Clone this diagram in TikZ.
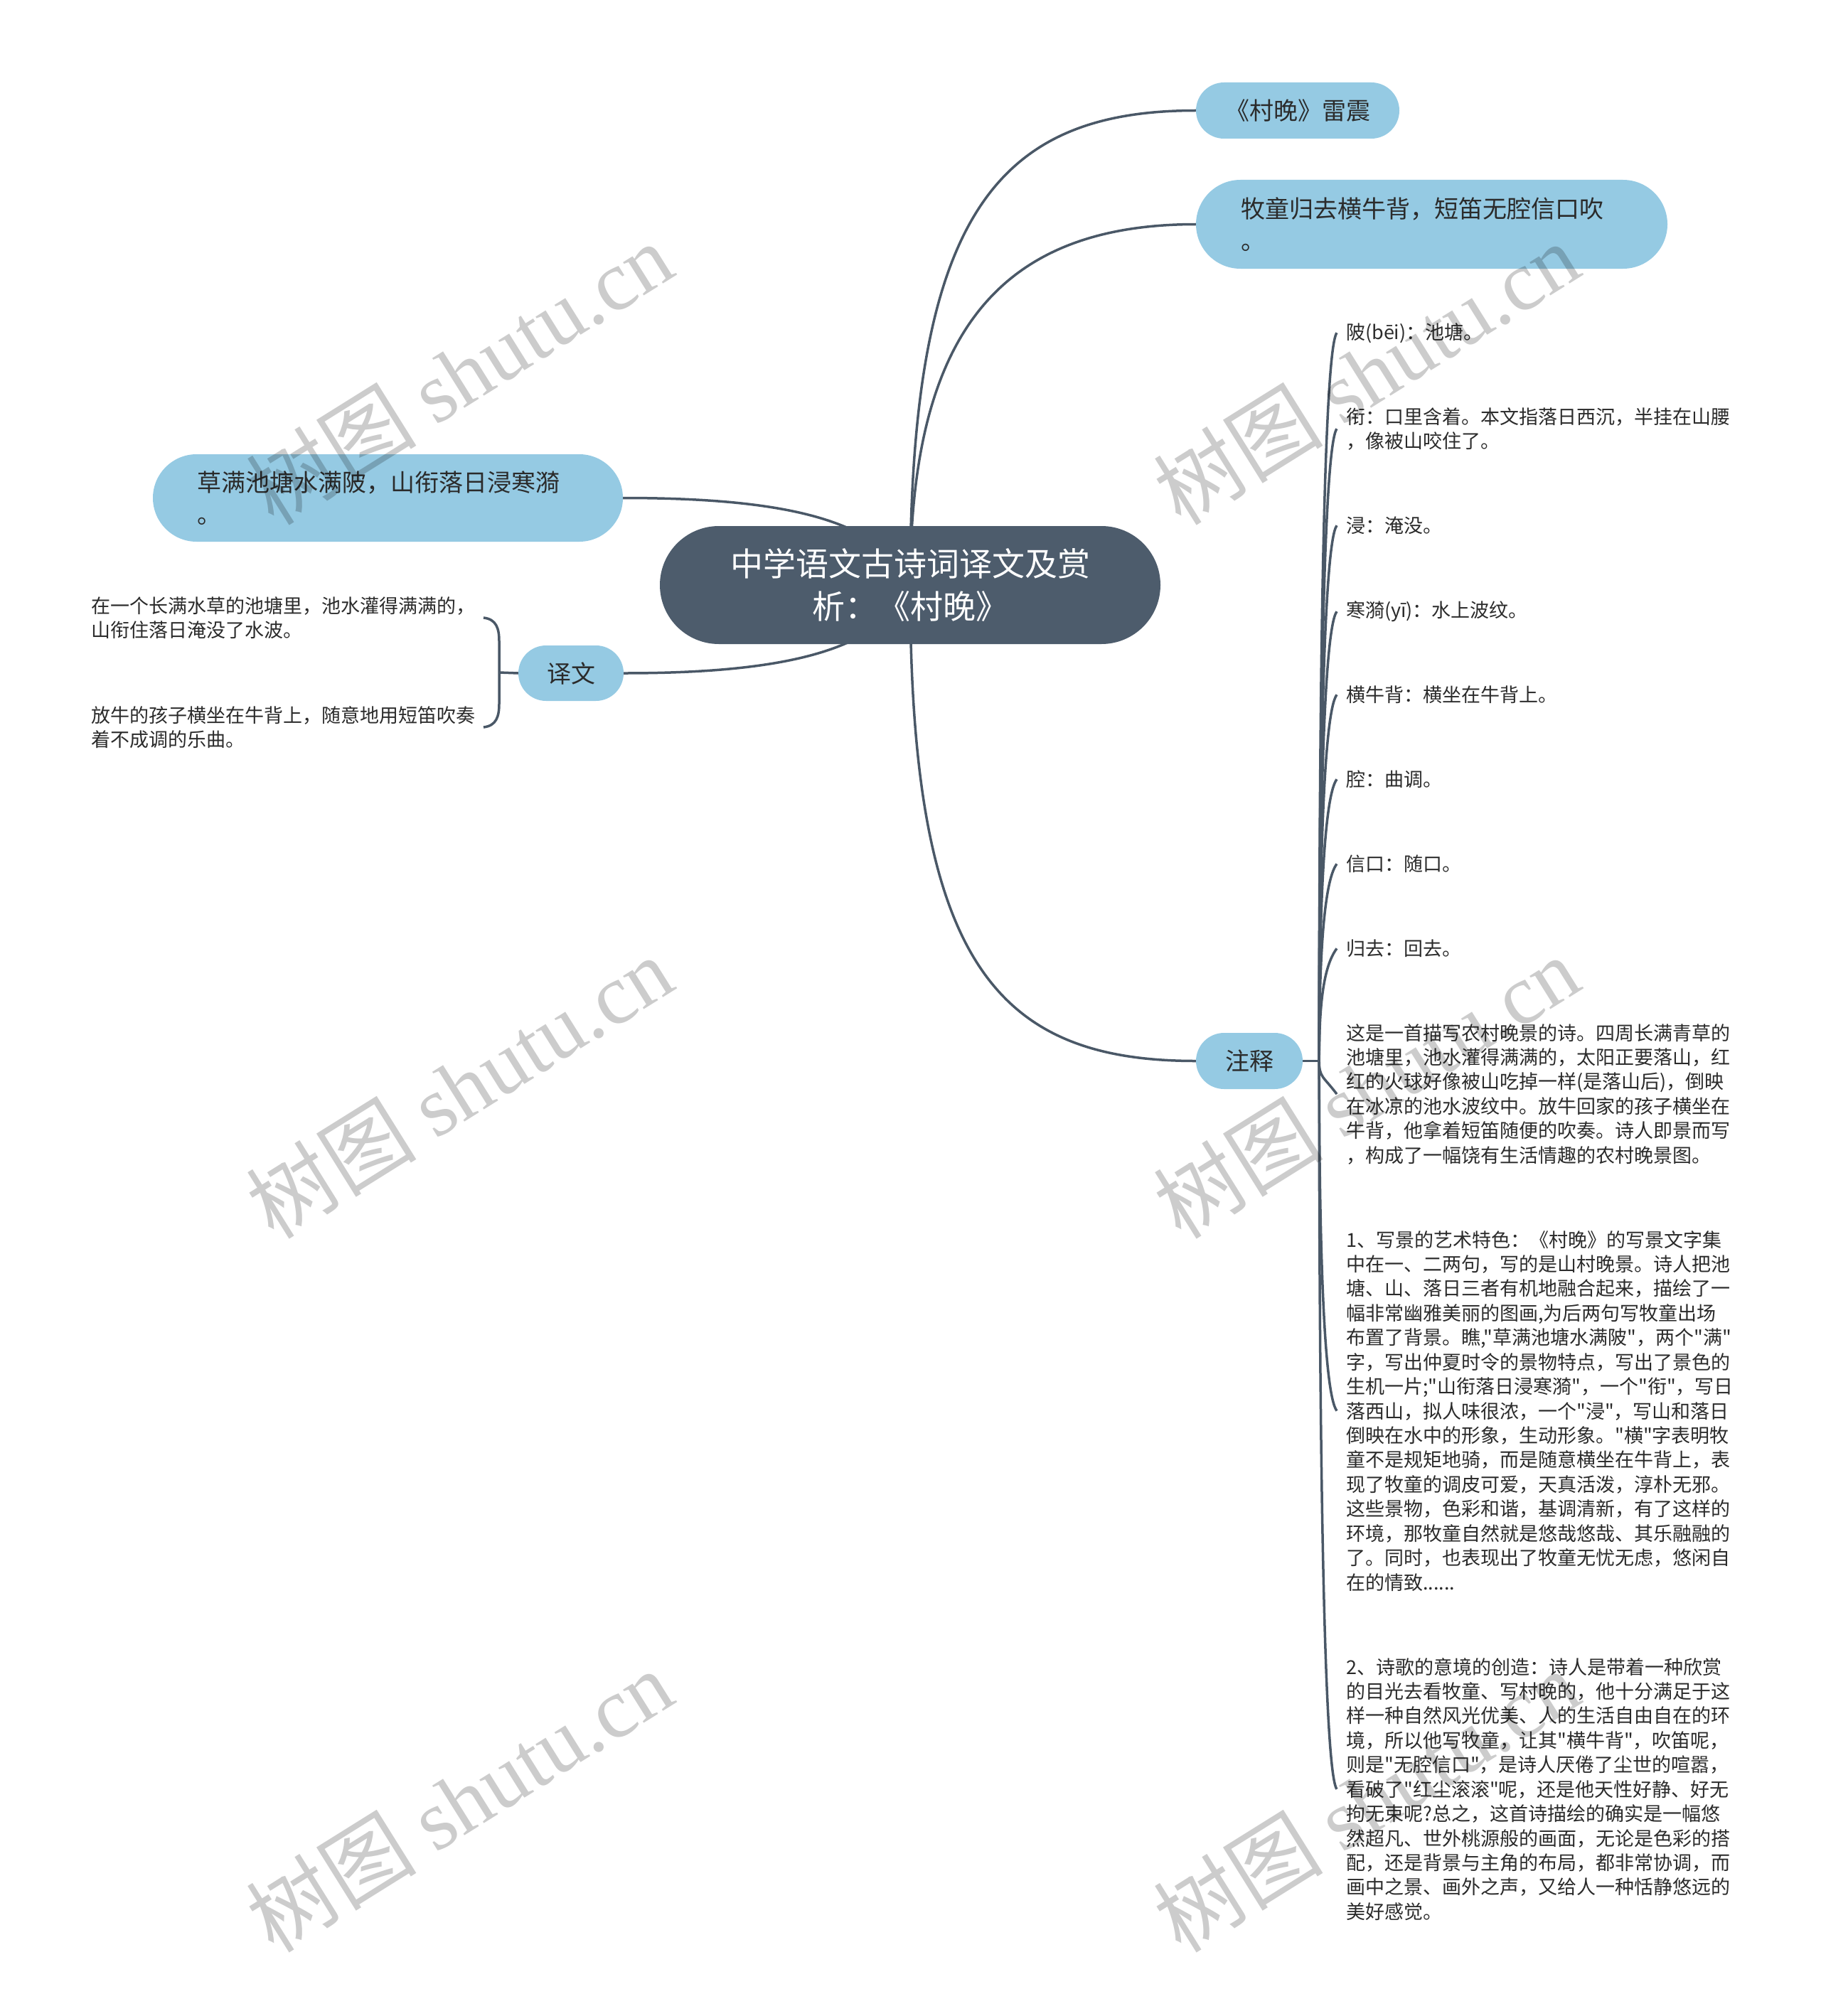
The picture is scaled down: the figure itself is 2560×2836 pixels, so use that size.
\documentclass[tikz,border=0pt]{standalone}
\usepackage{fontspec}
\setmainfont{Noto Sans CJK SC}[Ligatures=TeXOff]
\newfontfamily\wmlatin{Liberation Serif}
\newfontfamily\wmcjk{Noto Sans CJK SC}
\usetikzlibrary{calc}
\definecolor{rootfill}{HTML}{4D5C6C}
\definecolor{subfill}{HTML}{95CAE3}
\definecolor{linecol}{HTML}{4A5867}
\definecolor{txt}{HTML}{2B2B2B}
\pgfdeclarelayer{bg}
\pgfdeclarelayer{fg}
\pgfsetlayers{bg,main,fg}
\begin{document}
\begin{tikzpicture}[x=1pt,y=-1pt,
  rootnode/.style={fill=rootfill, text=white, rounded corners=83pt, minimum width=704pt, minimum height=166pt, inner sep=0pt, align=center, font=\fontsize{46}{60}\selectfont},
  topic/.style={fill=subfill, text=txt, inner sep=0pt, font=\fontsize{34}{45}\selectfont},
  note/.style={text=txt, inner sep=0pt, anchor=base west, text width=600pt, align=left, font=\fontsize{27}{34.43}\selectfont},
  conn/.style={draw=linecol, line width=3.5pt},
  wm/.style={text=black, text opacity=0.2, rotate=32, inner sep=0pt, font=\fontsize{120}{120}\selectfont}
]
\useasboundingbox (0,0) rectangle (2560,2836);

% main nodes
\node[rootnode] (root) at (1280,823) {中学语文古诗词译文及赏\\析：《村晚》};
\node[topic, rounded corners=39.5pt, minimum width=286pt, minimum height=79pt] (lz) at (1825,155.5) {《村晚》雷震};
\node[topic, rounded corners=62.5pt, minimum width=663pt, minimum height=125pt, text width=537pt, align=left] (mt) at (2013.5,315.5) {牧童归去横牛背，短笛无腔信口吹\\。};
\node[topic, rounded corners=61.5pt, minimum width=661pt, minimum height=123pt, text width=537pt, align=left] (cm) at (545.5,700.5) {草满池塘水满陂，山衔落日浸寒漪\\。};
\node[topic, rounded corners=39pt, minimum width=148pt, minimum height=78pt] (yw) at (803,947) {译文};
\node[topic, rounded corners=39.5pt, minimum width=150pt, minimum height=79pt] (zs) at (1757,1492.5) {注释};

% translation texts
\node[note] (t1) at (128,862) {在一个长满水草的池塘里，池水灌得满满的，\\山衔住落日淹没了水波。};
\node[note] (t2) at (128,1016) {放牛的孩子横坐在牛背上，随意地用短笛吹奏\\着不成调的乐曲。};

% notes
\node[note] (n1) at (1893,477) {陂(bēi)：池塘。};
\node[note] (n2) at (1893,596) {衔：口里含着。本文指落日西沉，半挂在山腰\\，像被山咬住了。};
\node[note] (n3) at (1893,749.5) {浸：淹没。};
\node[note] (n4) at (1893,868.5) {寒漪(yī)：水上波纹。};
\node[note] (n5) at (1893,987.5) {横牛背：横坐在牛背上。};
\node[note] (n6) at (1893,1106.5) {腔：曲调。};
\node[note] (n7) at (1893,1225.5) {信口：随口。};
\node[note] (n8) at (1893,1344.5) {归去：回去。};
\node[note] (n9) at (1893,1463) {这是一首描写农村晚景的诗。四周长满青草的\\池塘里，池水灌得满满的，太阳正要落山，红\\红的火球好像被山吃掉一样(是落山后)，倒映\\在冰凉的池水波纹中。放牛回家的孩子横坐在\\牛背，他拿着短笛随便的吹奏。诗人即景而写\\，构成了一幅饶有生活情趣的农村晚景图。};
\node[note] (n10) at (1893,1754) {1、写景的艺术特色：《村晚》的写景文字集\\中在一、二两句，写的是山村晚景。诗人把池\\塘、山、落日三者有机地融合起来，描绘了一\\幅非常幽雅美丽的图画,为后两句写牧童出场\\布置了背景。瞧,"草满池塘水满陂"，两个"满"\\字，写出仲夏时令的景物特点，写出了景色的\\生机一片;"山衔落日浸寒漪"，一个"衔"，写日\\落西山，拟人味很浓，一个"浸"，写山和落日\\倒映在水中的形象，生动形象。"横"字表明牧\\童不是规矩地骑，而是随意横坐在牛背上，表\\现了牧童的调皮可爱，天真活泼，淳朴无邪。\\这些景物，色彩和谐，基调清新，有了这样的\\环境，那牧童自然就是悠哉悠哉、其乐融融的\\了。同时，也表现出了牧童无忧无虑，悠闲自\\在的情致......};
\node[note] (n11) at (1893,2355) {2、诗歌的意境的创造：诗人是带着一种欣赏\\的目光去看牧童、写村晚的，他十分满足于这\\样一种自然风光优美、人的生活自由自在的环\\境，所以他写牧童，让其"横牛背"，吹笛呢，\\则是"无腔信口"，是诗人厌倦了尘世的喧嚣，\\看破了"红尘滚滚"呢，还是他天性好静、好无\\拘无束呢?总之，这首诗描绘的确实是一幅悠\\然超凡、世外桃源般的画面，无论是色彩的搭\\配，还是背景与主角的布局，都非常协调，而\\画中之景、画外之声，又给人一种恬静悠远的\\美好感觉。};

% connector points
\coordinate (sp) at ($(zs.east)+(23,0)$);
\foreach \k in {1,...,11} { \coordinate (tip\k) at ($(n\k.west)+(-13,0)$); }
\coordinate (bt) at (680,869);
\coordinate (bb) at (680,1023);
\coordinate (bm) at (702,946);

\begin{pgfonlayer}{bg}
  \draw[conn] (root.center) .. controls ($(root.center |- lz.west)+(0,150)$) and ($(root.center |- lz.west)+(120,0)$) .. (lz.west);
  \draw[conn] (root.center) .. controls ($(root.center |- mt.west)+(0,160)$) and ($(root.center |- mt.west)+(120,0)$) .. (mt.west);
  \draw[conn] (root.center) .. controls ($(root.center |- zs.west)+(0,-140)$) and ($(root.center |- zs.west)+(120,0)$) .. (zs.west);
  \draw[conn] (root.center) .. controls ($(root.center)+(-40,-93)$) and ($(cm.east)+(224,0)$) .. (cm.east);
  \draw[conn] (root.center) .. controls ($(root.center)+(-40,93)$) and ($(yw.east)+(224,0)$) .. (yw.east);
  % translation bracket
  \draw[conn] (yw.west) -- (bm);
  \draw[conn] (bt) .. controls (698,871) and (702,884) .. (702,902) -- (702,990) .. controls (702,1008) and (698,1021) .. (bb);
  % notes spine
  \draw[conn] (zs.east) -- (sp);
  \foreach \k in {1,...,8} {
    \draw[conn] (sp) .. controls ($(sp)!0.5!(sp|-tip\k)$) and ($(sp|-tip\k)+(6,25)$) .. (tip\k);
  }
  \foreach \k in {9,10,11} {
    \draw[conn] (sp) .. controls ($(sp)!0.5!(sp|-tip\k)$) and ($(sp|-tip\k)+(6,-25)$) .. (tip\k);
  }
\end{pgfonlayer}

\begin{pgfonlayer}{fg}
  \node[wm] (w1) at (646,525) {{\wmcjk 树图} {\wmlatin shutu.cn}};
  \node[wm] (w2) at (646,1529) {{\wmcjk 树图} {\wmlatin shutu.cn}};
  \node[wm] (w3) at (646,2533) {{\wmcjk 树图} {\wmlatin shutu.cn}};
  \node[wm] (w4) at (1921,525) {{\wmcjk 树图} {\wmlatin shutu.cn}};
  \node[wm] (w5) at (1921,1529) {{\wmcjk 树图} {\wmlatin shutu.cn}};
  \node[wm] (w6) at (1921,2533) {{\wmcjk 树图} {\wmlatin shutu.cn}};
\end{pgfonlayer}
\end{tikzpicture}
\end{document}
